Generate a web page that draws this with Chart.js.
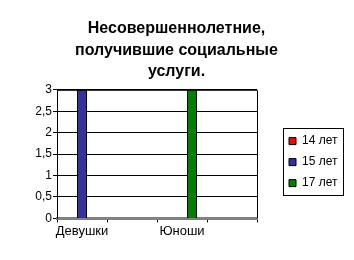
<!DOCTYPE html>
<html>
<head>
<meta charset="utf-8">
<script src="https://cdn.jsdelivr.net/npm/chart.js@4/dist/chart.umd.min.js"></script>
<style>
  html, body { margin: 0; padding: 0; background: #fff; }
  #wrap { width: 354px; height: 260px; }
</style>
</head>
<body>
<div id="wrap"><canvas id="myChart" width="354" height="260"></canvas></div>
<script>
  const categories = ['Девушки', '', 'Юноши', ''];
  const age14 = [0, 0, 0, 0];
  const age15 = [3, 0, 0, 0];
  const age17 = [0, 0, 3, 0];
  const seriesNames = ['14 лет', '15 лет', '17 лет'];

  // fixed legend width, then move it next to the plot
  const legendPlace = {
    id: 'legendPlace',
    beforeInit(chart) {
      const fitValue = chart.legend.fit;
      chart.legend.fit = function fit() {
        fitValue.bind(chart.legend)();
        this.width = 88;
      };
    },
    afterLayout(chart) {
      const lg = chart.legend;
      const a = chart.chartArea;
      const h = 60;
      const cy = (a.top + a.bottom) / 2 + 8;
      lg.left = a.right + 23;
      lg.right = lg.left + 60;
      lg.top = cy - h / 2 - 9;
      lg.bottom = lg.top + h + 18;
      lg.height = lg.bottom - lg.top;
    }
  };

  // frame round plot area and legend
  const frames = {
    id: 'frames',
    afterDraw(chart) {
      const ctx = chart.ctx;
      const a = chart.chartArea;
      ctx.save();
      ctx.strokeStyle = '#000';
      ctx.lineWidth = 1;
      ctx.beginPath();
      ctx.moveTo(a.left, a.top + 0.5);
      ctx.lineTo(a.right + 0.5, a.top + 0.5);
      ctx.lineTo(a.right + 0.5, a.bottom);
      ctx.stroke();
      const boxes = chart.legend.legendHitBoxes;
      if (boxes && boxes.length) {
        let l = Infinity, t = Infinity, r = -Infinity, b = -Infinity;
        boxes.forEach(hb => {
          l = Math.min(l, hb.left); t = Math.min(t, hb.top);
          r = Math.max(r, hb.left + hb.width); b = Math.max(b, hb.top + hb.height);
        });
        ctx.strokeRect(Math.round(l - 6) + 0.5, Math.round(t - 7) + 0.5, Math.round(r - l + 12), Math.round(b - t + 13));
      }
      ctx.restore();
    }
  };

  const colors = ['#FF0000', '#333399', '#008000'];
  const data = {
    labels: categories,
    datasets: [age14, age15, age17].map((vals, i) => ({
      label: seriesNames[i],
      data: vals,
      backgroundColor: colors[i],
      borderColor: '#000',
      borderWidth: 1,
      categoryPercentage: 0.6,
      barPercentage: 1.0,
    })),
  };

  const config = {
    type: 'bar',
    data,
    options: {
      responsive: false,
      animation: false,
      layout: {
        padding: { left: 8, right: 9, top: 0, bottom: 20 }
      },
      scales: {
        x: {
          grid: {
            display: true,
            drawOnChartArea: false,
            drawTicks: true,
            tickLength: 4,
            color: '#000',
          },
          border: { color: '#808080', width: 3 },
          ticks: {
            color: '#000',
            font: { family: 'Liberation Sans, Arial', size: 13 },
            maxRotation: 0,
            autoSkip: false,
            padding: 1,
          }
        },
        y: {
          min: 0,
          max: 3,
          afterFit(scale) { scale.width = 49; },
          grid: { color: '#000', tickLength: 4 },
          border: { color: '#000' },
          ticks: {
            stepSize: 0.5,
            color: '#000',
            padding: 1,
            font: { family: 'Liberation Sans, Arial', size: 12 },
            callback: v => String(v).replace('.', ',')
          }
        }
      },
      plugins: {
        title: {
          display: true,
          text: ['Несовершеннолетние,', 'получившие социальные', 'услуги.'],
          color: '#000',
          font: { family: 'Liberation Sans, Arial', size: 16, weight: 'bold', lineHeight: 1.35 },
          padding: { top: 18, bottom: 7 }
        },
        legend: {
          position: 'right',
          labels: {
            color: '#000',
            boxWidth: 7,
            boxHeight: 7,
            padding: 9,
            font: { family: 'Liberation Sans, Arial', size: 12 },
          }
        },
        tooltip: { enabled: false }
      }
    },
    plugins: [legendPlace, frames]
  };

  const myChart = new Chart(document.getElementById('myChart'), config);
</script>
</body>
</html>
